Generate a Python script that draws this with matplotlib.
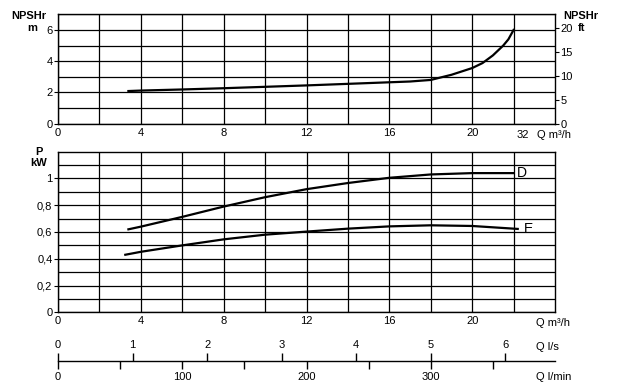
import numpy as np
import matplotlib.pyplot as plt

plt.rcParams['font.family'] = ['Liberation Sans', 'DejaVu Sans']
plt.rcParams['font.size'] = 8

# NPSHr curve (Q in m3/h, NPSHr in m)
npsh_q = [3.4, 4, 6, 8, 10, 12, 14, 16, 17, 18, 19, 20, 20.5, 21, 21.5, 21.75, 22]
npsh_m = [2.09, 2.12, 2.19, 2.27, 2.36, 2.45, 2.55, 2.65, 2.7, 2.8, 3.13, 3.56, 3.88, 4.37, 5.0, 5.4, 6.0]

# power curves (Q in m3/h, P in kW)
d_q = [3.4, 4, 6, 8, 10, 12, 14, 16, 18, 20, 22]
d_p = [0.62, 0.64, 0.713, 0.79, 0.86, 0.92, 0.966, 1.005, 1.03, 1.04, 1.04]
e_q = [3.25, 4, 6, 8, 10, 12, 14, 16, 18, 20, 22.2]
e_p = [0.43, 0.452, 0.5, 0.545, 0.58, 0.603, 0.625, 0.642, 0.65, 0.645, 0.623]

q_ticks = [0, 4, 8, 12, 16, 20]
p_ticks = [0, 0.2, 0.4, 0.6, 0.8, 1.0]
p_labels = ['0', '0,2', '0,4', '0,6', '0,8', '1']
ls_ticks = [0, 1, 2, 3, 4, 5, 6]
lmin_labels = [0, 100, 200, 300]

W, H = 626, 382
fig = plt.figure(figsize=(W / 100, H / 100), dpi=100)

def fx(px):
    return px / W

def fy(py):
    return 1 - py / H

left, right = 58, 555
ax1 = fig.add_axes([fx(left), fy(123.7), fx(right - left), (123.7 - 14.3) / H])
ax2 = fig.add_axes([fx(left), fy(312.3), fx(right - left), (312.3 - 151.7) / H])

def style(ax):
    ax.set_xlim(0, 24)
    ax.set_xticks(q_ticks)
    ax.set_xticks(np.arange(2, 24, 2), minor=True)
    ax.grid(which='both', color='black', lw=0.9)
    ax.set_axisbelow(True)
    ax.tick_params(axis='x', which='both', length=0, pad=3)
    ax.tick_params(axis='y', which='minor', length=0)
    ax.tick_params(axis='y', which='major', length=3, pad=1, direction='out')
    for s in ax.spines.values():
        s.set_color('black')
        s.set_linewidth(1)

# top: NPSHr
style(ax1)
ax1.set_ylim(0, 7)
ax1.set_yticks([0, 2, 4, 6])
ax1.set_yticks([1, 3, 5, 7], minor=True)
ax1.plot(npsh_q, npsh_m, color='black', lw=1.6)
axr = ax1.twinx()
axr.set_ylim(0, 7 * 3.28)
axr.set_yticks([0, 5, 10, 15, 20])
axr.tick_params(axis='y', length=3, pad=1)
for s in axr.spines.values():
    s.set_visible(False)

# bottom: power
style(ax2)
ax2.set_ylim(0, 1.2)
ax2.set_yticks(p_ticks)
ax2.set_yticklabels(p_labels)
ax2.set_yticks(np.arange(0.1, 1.21, 0.2), minor=True)
ax2.plot(d_q, d_p, color='black', lw=1.6)
ax2.plot(e_q, e_p, color='black', lw=1.6)
ax2.text(22.15, d_p[-1], 'D', fontsize=10, va='center', ha='left')
ax2.text(22.5, e_p[-1], 'E', fontsize=10, va='center', ha='left')

# extra flow scales (l/s above, l/min below)
ax3 = fig.add_axes([fx(left), fy(360.8), fx(right - left), 0.0001])
ax3.set_xlim(0, 400)
ax3.set_yticks([])
for k in ['left', 'right', 'top']:
    ax3.spines[k].set_visible(False)
ax3.spines['bottom'].set_linewidth(1)
ax3.set_xticks(np.arange(0, 400, 50))
ax3.set_xticklabels([str(v) if v in lmin_labels else '' for v in range(0, 400, 50)])
ax3.tick_params(axis='x', length=6, width=1, pad=2, direction='out')
sec = ax3.secondary_xaxis('top', functions=(lambda v: v / 60.0, lambda v: v * 60.0))
sec.set_xticks(ls_ticks)
sec.spines['top'].set_visible(False)
sec.tick_params(axis='x', length=6, width=1, pad=2, direction='out')

# axis titles
fig.text(fx(46), fy(16), 'NPSHr', ha='right', va='center', fontweight='bold', fontsize=8)
fig.text(fx(37), fy(28), 'm', ha='right', va='center', fontweight='bold', fontsize=8)
fig.text(fx(563), fy(16), 'NPSHr', ha='left', va='center', fontweight='bold', fontsize=8)
fig.text(fx(578), fy(28), 'ft', ha='left', va='center', fontweight='bold', fontsize=8)
fig.text(fx(39), fy(152), 'P', ha='center', va='center', fontweight='bold', fontsize=8)
fig.text(fx(39), fy(163), 'kW', ha='center', va='center', fontweight='bold', fontsize=8)
fig.text(fx(523), fy(135), '32', ha='center', va='center', fontsize=8)
fig.text(fx(537), fy(135), 'Q m³/h', ha='left', va='center', fontsize=8)
fig.text(fx(536), fy(323), 'Q m³/h', ha='left', va='center', fontsize=8)
fig.text(fx(536), fy(347), 'Q l/s', ha='left', va='center', fontsize=8)
fig.text(fx(536), fy(377), 'Q l/min', ha='left', va='center', fontsize=8)

fig.savefig('out.png', dpi=100)
